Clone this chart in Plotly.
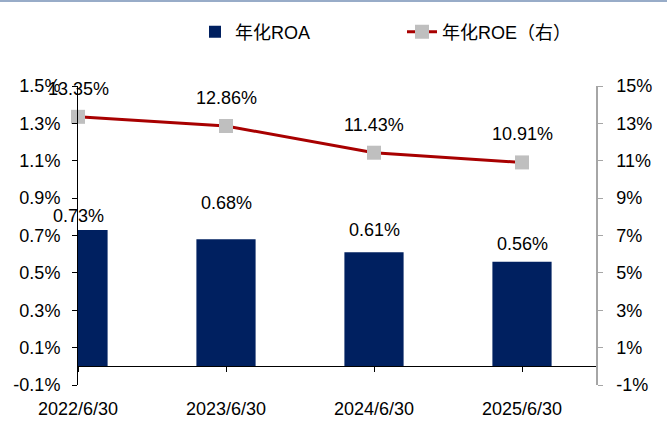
import plotly.graph_objects as go

categories = ["2022/6/30", "2023/6/30", "2024/6/30", "2025/6/30"]
roa = [0.73, 0.68, 0.61, 0.56]
roe = [13.35, 12.86, 11.43, 10.91]
roa_name = "年化ROA"
roe_name = "年化ROE（右）"
left_ticks = [-0.1, 0.1, 0.3, 0.5, 0.7, 0.9, 1.1, 1.3, 1.5]
left_tick_text = ["-0.1%", "0.1%", "0.3%", "0.5%", "0.7%", "0.9%", "1.1%", "1.3%", "1.5%"]
right_ticks = [-1, 1, 3, 5, 7, 9, 11, 13, 15]
right_tick_text = ["-1%", "1%", "3%", "5%", "7%", "9%", "11%", "13%", "15%"]

# label offsets (px) as placed in the reference
roa_label_shift = [14, 36, 22, 18]
roe_label_shift = 28

FONT = "Liberation Sans, Arial, Noto Sans CJK SC, sans-serif"
NAVY = "#002060"
RED = "#A80000"
GRAY_MK = "#BFBFBF"

W, H = 667, 445
ML, MR, MT, MB = 78, 71, 86, 60
PW, PH = W - ML - MR, H - MT - MB

fig = go.Figure()
fig.add_trace(go.Bar(
    x=categories, y=roa, name=roa_name, marker_color=NAVY,
    marker_line_width=0, width=0.4, yaxis="y",
))
fig.add_trace(go.Scatter(
    x=categories, y=roe, name=roe_name, yaxis="y2", mode="lines+markers",
    line=dict(color=RED, width=3),
    marker=dict(symbol="square", size=14, color=GRAY_MK),
    cliponaxis=False,
))

anns = []
for i, c in enumerate(categories):
    anns.append(dict(x=c, y=roa[i], xref="x", yref="y", text=f"{roa[i]:.2f}%",
                     showarrow=False, yshift=roa_label_shift[i],
                     font=dict(family=FONT, size=18, color="#000")))
    anns.append(dict(x=c, y=roe[i], xref="x", yref="y2", text=f"{roe[i]:.2f}%",
                     showarrow=False, yshift=roe_label_shift,
                     font=dict(family=FONT, size=18, color="#000")))

fig.update_layout(
    width=W, height=H,
    margin=dict(l=ML, r=MR, t=MT, b=MB, autoexpand=False),
    paper_bgcolor="white", plot_bgcolor="white",
    font=dict(family=FONT, size=18, color="#000"),
    showlegend=True,
    legend=dict(orientation="h", xref="container", yref="container",
                x=(194 + 1) / W, y=1 - 32 / H, xanchor="left", yanchor="middle",
                entrywidth=162, entrywidthmode="pixels",
                font=dict(family=FONT, size=18, color="#000"),
                bgcolor="rgba(0,0,0,0)"),
    xaxis=dict(type="category", range=[0, 3.5], anchor="free", position=0.0625,
               automargin=False,
               showline=True, linecolor="#000", linewidth=1,
               ticks="outside", ticklen=5, tickcolor="#000",
               ticklabelstandoff=21, showgrid=False, zeroline=False,
               tickfont=dict(family=FONT, size=18, color="#000")),
    yaxis=dict(range=[-0.1, 1.5], tickvals=left_ticks, ticktext=left_tick_text,
               automargin=False,
               showline=True, linecolor="#000", linewidth=1,
               ticks="outside", ticklen=5, tickcolor="#000",
               ticklabelstandoff=8, showgrid=False, zeroline=False,
               tickfont=dict(family=FONT, size=18, color="#000")),
    yaxis2=dict(range=[-1, 15], tickvals=right_ticks, ticktext=right_tick_text,
                overlaying="y", side="right", anchor="x", automargin=False,
                showline=True, linecolor="#A6A6A6", linewidth=1.5,
                ticks="outside", ticklen=5, tickcolor="#A6A6A6",
                ticklabelstandoff=10, showgrid=False, zeroline=False,
                tickfont=dict(family=FONT, size=18, color="#000")),
    annotations=anns,
)
# thin header rule across the top of the figure
fig.add_shape(type="rect", xref="paper", yref="paper",
              x0=-ML / PW, x1=(W - ML) / PW,
              y0=1 + (MT - 2) / PH, y1=1 + (MT + 2) / PH,
              fillcolor="#98ACC8", line_width=0, layer="above")

fig.write_html("out.html", config={"displayModeBar": False},
               post_script="document.body.style.margin='0';")
